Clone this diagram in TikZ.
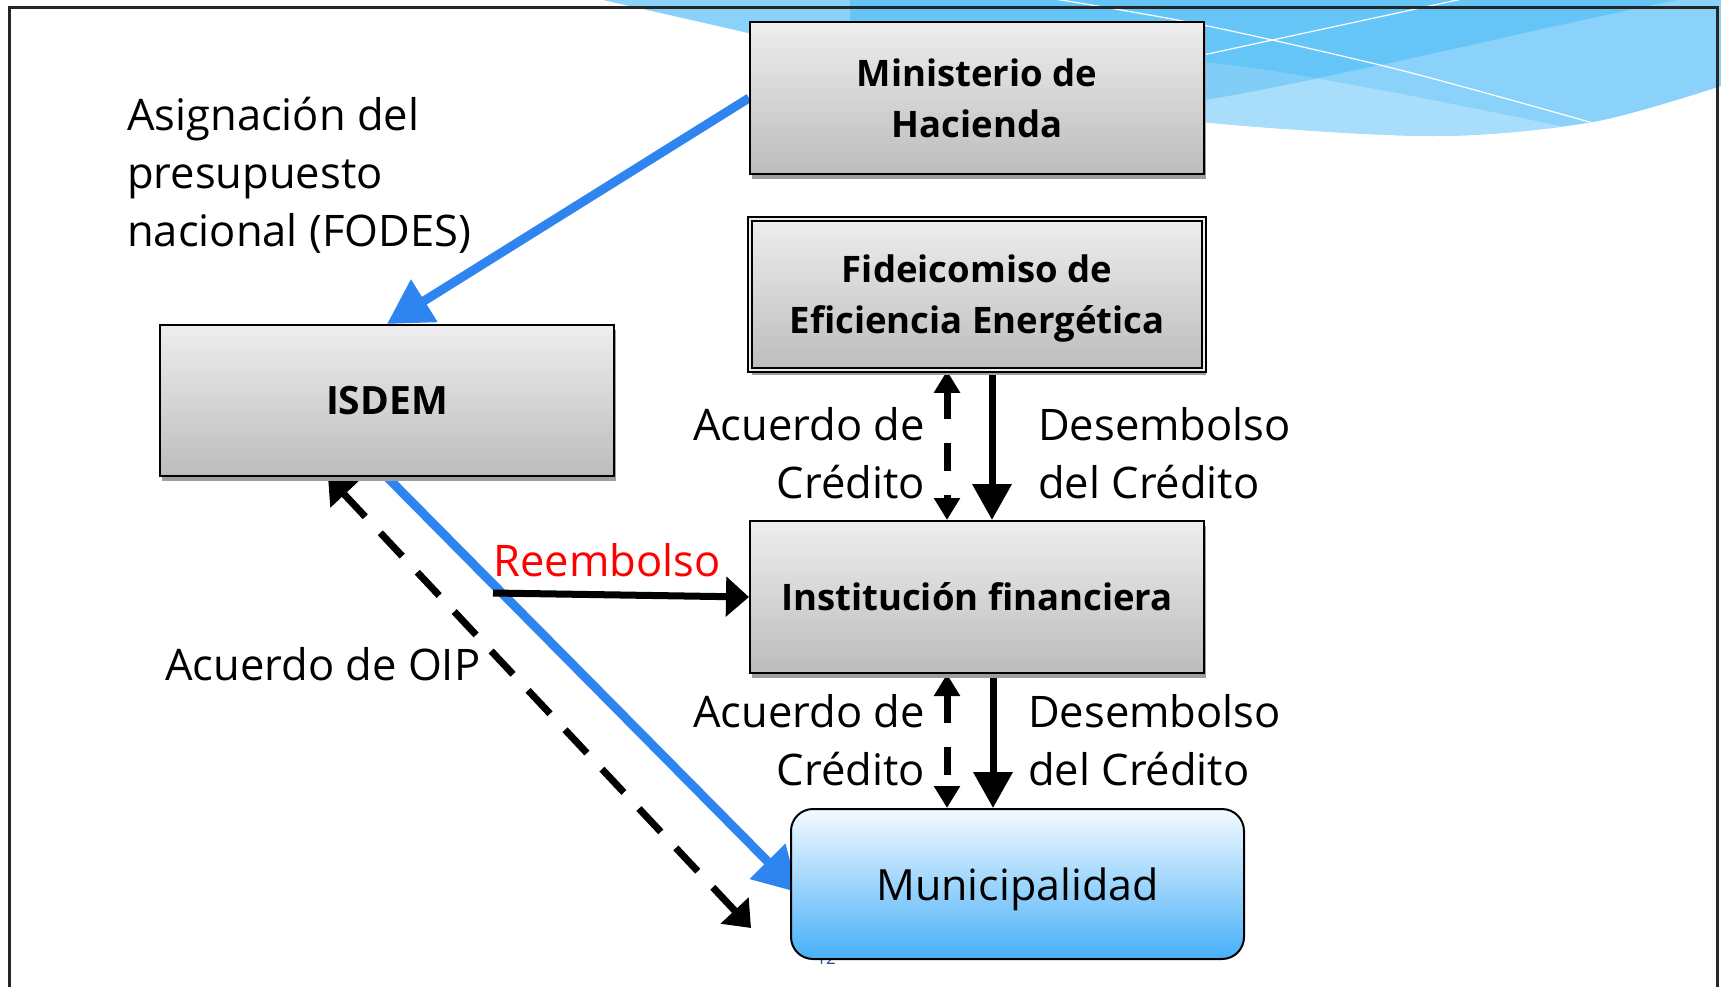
\documentclass[tikz,border=0pt]{standalone}
\usepackage{fontspec}
\setmainfont{Open Sans}
\usetikzlibrary{arrows.meta,shadows,calc}
\pgfdeclarelayer{wave}
\pgfdeclarelayer{links}
\pgfsetlayers{wave,links,main}
\definecolor{bluearrow}{RGB}{47,133,240}
\definecolor{waveA}{RGB}{168,222,251}
\definecolor{waveB}{RGB}{139,210,250}
\definecolor{waveC}{RGB}{128,206,248}
\definecolor{waveD}{RGB}{102,197,247}
\definecolor{boxtop}{RGB}{238,238,238}
\definecolor{boxbot}{RGB}{188,188,188}
\definecolor{muntop}{RGB}{244,250,255}
\definecolor{munbot}{RGB}{70,175,248}
\definecolor{pgblue}{RGB}{40,80,150}
\begin{document}
\begin{tikzpicture}[x=1pt,y=-1pt,
  graybox/.style={draw=black, line width=2pt, top color=boxtop, bottom color=boxbot,
    minimum width=454pt, minimum height=152pt, inner sep=0pt, align=center,
    font=\fontsize{36.5}{51}\selectfont\bfseries,
    drop shadow={shadow xshift=1.5pt, shadow yshift=-5pt, fill=black!38, opacity=1}},
  munbox/.style={draw=black, line width=2pt, rounded corners=22pt, top color=muntop,
    bottom color=munbot, minimum width=453pt, minimum height=150pt, inner sep=0pt,
    text depth=0pt, font=\fontsize{43}{50}\selectfont},
  lbl/.style={inner sep=0pt, font=\fontsize{43.5}{58}\selectfont},
  bluearr/.style={draw=bluearrow, line width=9pt, -{Triangle[length=44pt,width=48pt]}},
  diagdash/.style={draw=black, line width=7pt, dash pattern=on 32pt off 22pt,
    {Triangle[length=24pt,width=37pt]}-{Triangle[length=24pt,width=37pt]}},
  vdash/.style={draw=black, line width=7pt, dash pattern=on 28pt off 24pt,
    {Triangle[length=22pt,width=25pt]}-{Triangle[length=22pt,width=25pt]}},
  vsolid/.style={draw=black, line width=7pt, -{Triangle[length=36pt,width=38pt]}},
  reembarr/.style={draw=black, line width=7pt, -{Triangle[length=23pt,width=39pt]}}
]
\useasboundingbox (0,0) rectangle (1721,986);

% ---------- nodes ----------
\node[graybox] (min) at (977,98) {Ministerio de\\Hacienda};
\node[graybox, line width=1.6pt, double=white!85!gray, double distance=2.5pt, minimum height=151pt, text depth=0pt]
  (fid) at (977,294.5) {Fideicomiso de\\Eficiencia Energética};
\node[graybox, minimum height=151pt, font=\fontsize{39}{44}\selectfont\bfseries] (isdem) at (387,400.5) {ISDEM};
\node[graybox] (inst) at (977,597) {Institución financiera};
\node[munbox] (mun) at (1017.5,884) {Municipalidad};

\node[lbl, anchor=west, align=left] (asig) at (127,175) {Asignación del\\presupuesto\\nacional (FODES)};
\node[lbl, anchor=east, align=right] (acu1) at (925,453) {Acuerdo de\\Crédito};
\node[lbl, anchor=west, align=left] (des1) at (1038,453) {Desembolso\\del Crédito};
\node[lbl, anchor=east, align=right] (acu2) at (925,740) {Acuerdo de\\Crédito};
\node[lbl, anchor=west, align=left] (des2) at (1028,740) {Desembolso\\del Crédito};
\node[lbl, text=red] (reemb) at (607,560) {Reembolso};
\node[lbl, anchor=west] (oip) at (165,664) {Acuerdo de OIP};

\coordinate (oipend) at (751,928);
\coordinate (reembstart) at (493,593);
\coordinate (d1) at ($(fid.south)+(-30,0)$);
\coordinate (s1) at ($(fid.south)+(15,0)$);
\coordinate (d2) at ($(inst.south)+(-30,0)$);
\coordinate (s2) at ($(inst.south)+(16,0)$);

% ---------- background wave ----------
\begin{pgfonlayer}{wave}
\fill[white] (0,0) rectangle (1721,986);
\fill[waveB] (603,-2) -- plot[smooth] coordinates {(603,0)(748,33)(1000,92)(1203,122)(1433,136)(1593,122)(1721,86)} -- (1723,86) -- (1723,-2) -- cycle;
\begin{scope}
  \clip (603,-2) -- plot[smooth] coordinates {(603,0)(748,33)(1000,92)(1203,122)(1433,136)(1593,122)(1721,86)} -- (1723,86) -- (1723,-2) -- cycle;
  \fill[waveA] plot[smooth] coordinates {(880,40)(1203,62)(1380,90)(1570,128)} -- (1570,260) -- (880,260) -- cycle;
  \fill[waveD] (850,-5) -- (850,140) -- plot[smooth] coordinates {(1000,125)(1203,100)(1380,65)(1560,25)(1700,-5)} -- cycle;
  \begin{scope}
    \clip plot[smooth] coordinates {(880,40)(1203,62)(1380,90)(1570,128)} -- (1570,260) -- (880,260) -- cycle;
    \fill[waveC] (850,-5) -- (850,140) -- plot[smooth] coordinates {(1000,125)(1203,100)(1380,65)(1560,25)(1700,-5)} -- cycle;
  \end{scope}
  \draw[white, line width=1.2pt] plot[smooth] coordinates {(1055,-1)(1203,25)(1400,70)(1593,123)};
  \draw[white, line width=1.2pt] (1180,60) -- (1462,-1);
\end{scope}
\draw[black!85, line width=2.2pt] (9.5,7.5) rectangle (1717.5,1010);
\node[font=\fontsize{17}{17}\selectfont, text=pgblue, inner sep=0pt] (pg) at (826,958) {12};
\end{pgfonlayer}

% ---------- connectors ----------
\begin{pgfonlayer}{links}
\draw[bluearr] (min.west) -- (isdem.north);
\draw[diagdash] ($(isdem.south)+(-59,0)$) -- (oipend);
\draw[bluearr, shorten >=-12pt] (isdem.south) -- (mun.west);
\draw[reembarr] (reembstart) -- (inst.west);
\draw[vdash] (d1) -- (d1 |- inst.north);
\draw[vsolid] (s1) -- (s1 |- inst.north);
\draw[vdash] (d2) -- (d2 |- mun.north);
\draw[vsolid] (s2) -- (s2 |- mun.north);
\end{pgfonlayer}
\end{tikzpicture}
\end{document}
